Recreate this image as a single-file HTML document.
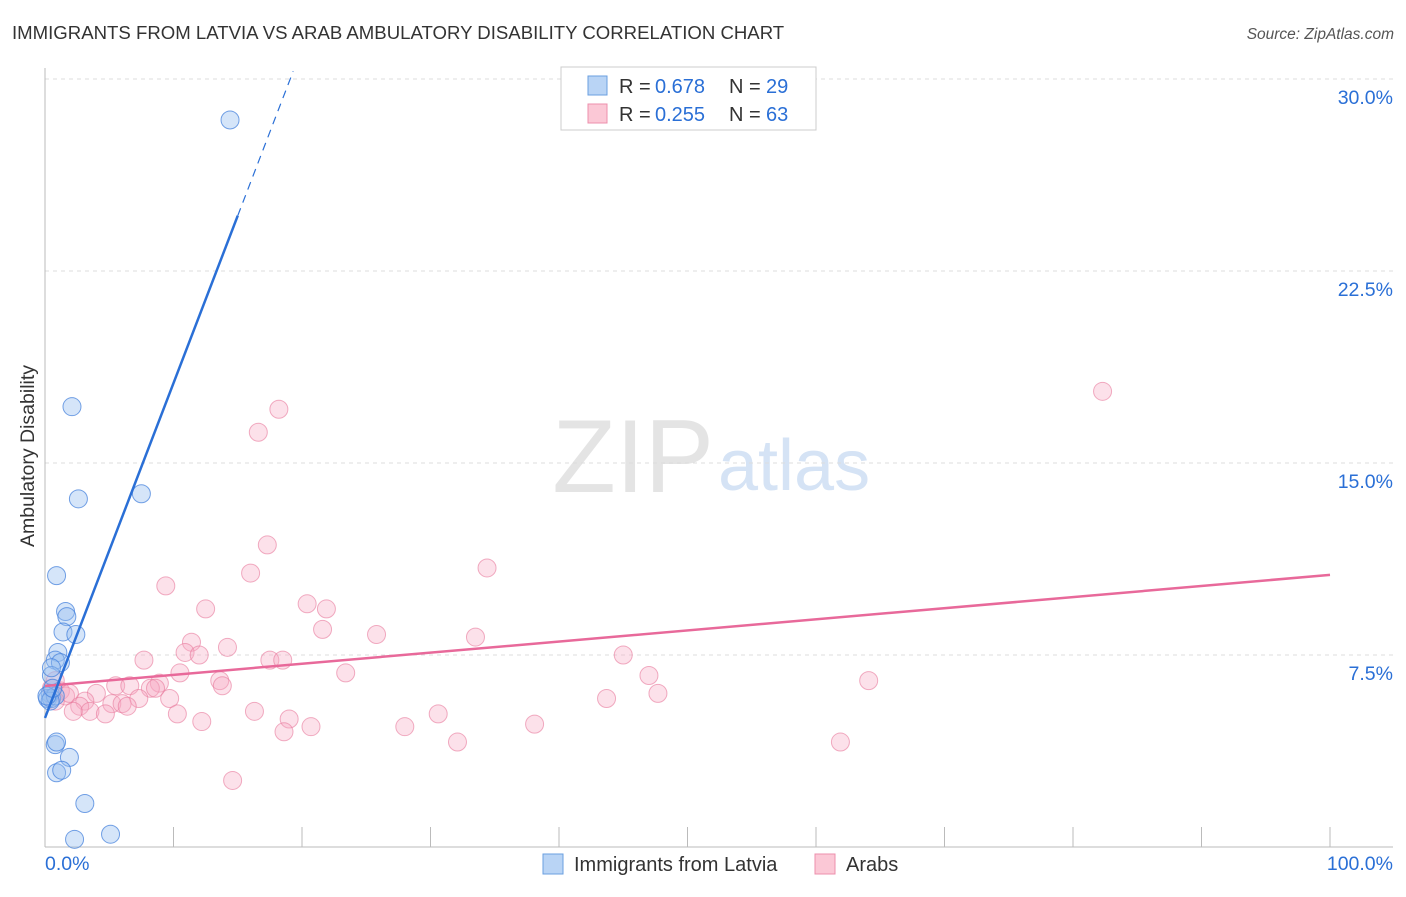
<!DOCTYPE html>
<html><head><meta charset="utf-8"><style>
body{margin:0;background:#fff;font-family:"Liberation Sans",sans-serif}
svg text{font-family:"Liberation Sans",sans-serif}
</style></head><body>
<svg id="chart" width="1406" height="892" xmlns="http://www.w3.org/2000/svg">
<text x="12" y="39" font-size="18.6" fill="#333">IMMIGRANTS FROM LATVIA VS ARAB AMBULATORY DISABILITY CORRELATION CHART</text>
<text x="1394" y="39" font-size="15.5" fill="#555" font-style="italic" text-anchor="end">Source: ZipAtlas.com</text>
<text x="714" y="492" font-size="104" fill="#e4e4e4" text-anchor="end" font-family="Liberation Serif">ZIP</text>
<text x="718" y="490" font-size="72" fill="#d5e3f5">atlas</text>
<text transform="translate(34,456) rotate(-90)" font-size="19.5" fill="#333" text-anchor="middle">Ambulatory Disability</text>
<g id="grid"></g><g id="axes"></g><g id="pts"></g><g id="lines"></g>
<g>
<rect x="561" y="67" width="255" height="63" fill="#fff" stroke="#ccc"/>
<rect x="588" y="76" width="19" height="19" fill="#b9d4f5" stroke="#6a9fe0"/>
<rect x="588" y="104" width="19" height="19" fill="#fbc8d6" stroke="#ec8fac"/>
<text x="619" y="93" font-size="20" fill="#333">R =</text><text x="655" y="93" font-size="20" fill="#2a6fd6">0.678</text>
<text x="729" y="93" font-size="20" fill="#333">N =</text><text x="766" y="93" font-size="20" fill="#2a6fd6">29</text>
<text x="619" y="121" font-size="20" fill="#333">R =</text><text x="655" y="121" font-size="20" fill="#2a6fd6">0.255</text>
<text x="729" y="121" font-size="20" fill="#333">N =</text><text x="766" y="121" font-size="20" fill="#2a6fd6">63</text>
</g>
<g>
<rect x="543" y="854" width="20" height="20" fill="#b9d4f5" stroke="#6a9fe0"/>
<text x="574" y="871" font-size="20" fill="#333">Immigrants from Latvia</text>
<rect x="815" y="854" width="20" height="20" fill="#fbc8d6" stroke="#ec8fac"/>
<text x="846" y="871" font-size="20" fill="#333">Arabs</text>
</g>
</svg>
<script>
const yTicks=[7.5,15,22.5,30];
const yTickLabels=["7.5%","15.0%","22.5%","30.0%"];
const xTicks=[0,10,20,30,40,50,60,70,80,90,100];
const xLabels=["0.0%","100.0%"];
const latviaX=[14.4,2.1,2.6,7.5,0.9,1.6,1.7,1.4,2.4,1.0,0.8,1.2,0.5,0.4,0.2,0.5,0.8,0.4,0.8,0.9,1.9,0.9,1.3,3.1,2.3,5.1,0.15,0.6,0.5];
const latviaY=[28.4,17.2,13.6,13.8,10.6,9.2,9.0,8.4,8.3,7.6,7.3,7.2,6.7,6.0,5.8,5.8,5.9,5.7,4.0,4.1,3.5,2.9,3.0,1.7,0.3,0.5,5.9,6.2,7.0];
const arabX=[82.3,18.2,16.6,17.3,34.4,16.0,9.4,12.5,20.4,21.9,21.6,25.8,33.5,11.4,14.2,10.9,12.0,7.7,45.0,17.5,18.5,23.4,10.5,47.0,64.1,13.6,13.8,8.9,5.5,6.6,8.2,8.6,4.0,9.7,7.3,43.7,47.7,1.2,1.6,1.9,0.5,0.8,3.1,2.7,5.2,6.0,6.4,3.5,2.2,4.7,10.3,16.3,19.0,12.2,20.7,18.6,28.0,30.6,38.1,32.1,61.9,14.6,0.8];
const arabY=[17.8,17.1,16.2,11.8,10.9,10.7,10.2,9.3,9.5,9.3,8.5,8.3,8.2,8.0,7.8,7.6,7.5,7.3,7.5,7.3,7.3,6.8,6.8,6.7,6.5,6.5,6.3,6.4,6.3,6.3,6.2,6.2,6.0,5.8,5.8,5.8,6.0,6.1,5.9,6.0,6.2,5.7,5.7,5.5,5.6,5.6,5.5,5.3,5.3,5.2,5.2,5.3,5.0,4.9,4.7,4.5,4.7,5.2,4.8,4.1,4.1,2.6,6.5];
const latviaFit=[5.04,1.308];
const arabFit=[6.29,0.0434];
const X0=45,X1=1330,YB=847,PX=25.6;
const sx=v=>X0+(X1-X0)*v/100, sy=v=>YB-v*PX;
const NS="http://www.w3.org/2000/svg";
function mk(p,t,a){const e=document.createElementNS(NS,t);for(const k in a)e.setAttribute(k,a[k]);document.getElementById(p).appendChild(e);return e;}
yTicks.forEach((v,i)=>{
 const l=mk('grid','line',{x1:X0,x2:1393,y1:sy(v),y2:sy(v),stroke:'#ddd','stroke-dasharray':'4,4'});
 
 
 const t=mk('grid','text',{x:1393,y:sy(v)+25,'font-size':19.5,fill:'#2a6fd6','text-anchor':'end'});t.textContent=yTickLabels[i];
 
 
});
let a=mk('axes','line',{x1:X0,x2:X0,y1:68,y2:YB,stroke:'#bbb'});


a=mk('axes','line',{x1:X0,x2:1393,y1:YB,y2:YB,stroke:'#bbb'});


xTicks.forEach(v=>{const t=mk('axes','line',{x1:sx(v),x2:sx(v),y1:YB,y2:YB-20,stroke:'#bbb'});
 
 });
let t=mk('axes','text',{x:45,y:870,'font-size':19.5,fill:'#2a6fd6'});t.textContent=xLabels[0];


t=mk('axes','text',{x:1393,y:870,'font-size':19.5,fill:'#2a6fd6','text-anchor':'end'});t.textContent=xLabels[1];


arabX.forEach((x,i)=>{const c=mk('pts','circle',{cx:sx(x),cy:sy(arabY[i]),r:9,fill:'rgba(247,170,195,0.35)',stroke:'rgba(232,120,155,0.6)','stroke-width':1});
 
 });
latviaX.forEach((x,i)=>{const c=mk('pts','circle',{cx:sx(x),cy:sy(latviaY[i]),r:9,fill:'rgba(150,190,240,0.4)',stroke:'rgba(70,130,220,0.75)','stroke-width':1});
 
 });
let L=mk('lines','line',{x1:sx(0),y1:sy(arabFit[0]),x2:sx(100),y2:sy(arabFit[0]+arabFit[1]*100),stroke:'#e8699a','stroke-width':2.5});


const xs=15;
L=mk('lines','line',{x1:sx(0),y1:sy(latviaFit[0]),x2:sx(xs),y2:sy(latviaFit[0]+latviaFit[1]*xs),stroke:'#2a6fd6','stroke-width':2.5});


const xe=(30.3-latviaFit[0])/latviaFit[1];
L=mk('lines','line',{x1:sx(xs),y1:sy(latviaFit[0]+latviaFit[1]*xs),x2:sx(xe),y2:sy(30.3),stroke:'#2a6fd6','stroke-width':1.2,'stroke-dasharray':'8,6'});


</script>
</body></html>
